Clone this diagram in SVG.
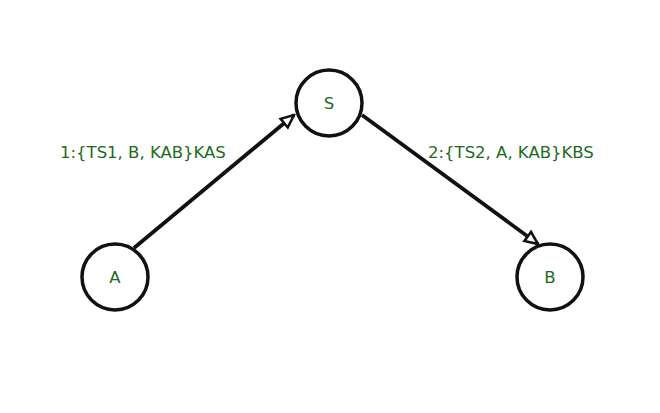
<svg xmlns="http://www.w3.org/2000/svg" width="660" height="413" viewBox="0 0 660 413">
<style>
.node circle{fill:#fff;stroke:#111;stroke-width:3.5}
text{font-family:"DejaVu Sans",sans-serif;font-size:16.5px;fill:#1d6b1d}
.node text{text-anchor:middle}
.edge{stroke:#111;stroke-width:3.8;fill:none;marker-end:url(#arr)}
</style>
<defs>
<marker id="arr" viewBox="0 0 10 10" refX="9" refY="5" markerWidth="4.2" markerHeight="4.2" orient="auto" markerUnits="strokeWidth">
<path d="M1,1.5 L9,5 L1,8.5 Z" fill="#fff" stroke="#111" stroke-width="1.6" stroke-linejoin="miter"/>
</marker>
</defs>
<rect width="660" height="413" fill="#fff"/>
<g id="connectors">
<line class="edge" x1="134" y1="248" x2="294" y2="115"/>
<line class="edge" x1="362" y1="115" x2="538" y2="244"/>
<text x="60" y="158">1:{TS1, B, KAB}KAS</text>
<text x="428" y="158">2:{TS2, A, KAB}KBS</text>
</g>
<g id="S" class="node"><circle cx="329" cy="103" r="33"/><text x="329" y="109">S</text></g>
<g id="A" class="node"><circle cx="115" cy="277" r="33"/><text x="115" y="283">A</text></g>
<g id="B" class="node"><circle cx="550" cy="277" r="33"/><text x="550" y="283">B</text></g>
</svg>
